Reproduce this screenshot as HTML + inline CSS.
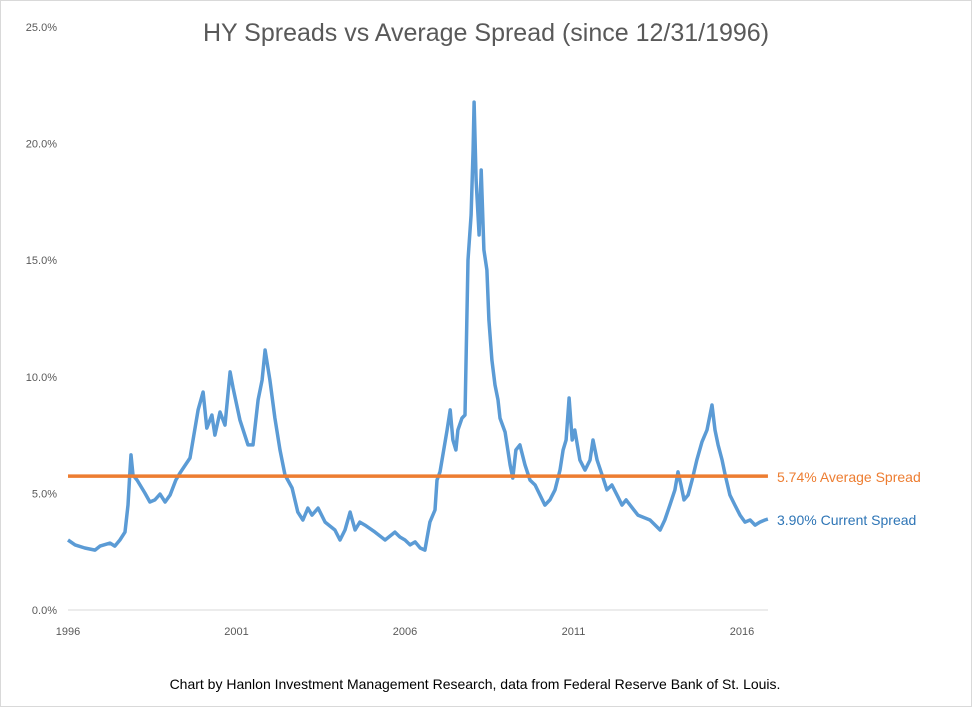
<!DOCTYPE html>
<html><head><meta charset="utf-8"><style>
body{margin:0;background:#fff;}
svg{display:block;font-family:"Liberation Sans",sans-serif;}
</style></head><body>
<svg id="chart" width="972" height="707" viewBox="0 0 972 707">
<rect x="0.5" y="0.5" width="971" height="706" fill="#fff" stroke="#d9d9d9"/>
<text x="486" y="41" text-anchor="middle" font-size="25" fill="#595959">HY Spreads vs Average Spread (since 12/31/1996)</text>
<g id="yaxis"></g><g id="xaxis"></g>
<line x1="68" x2="768" y1="610" y2="610" stroke="#d9d9d9" stroke-width="1"/>
<g id="series"></g>
<text x="475" y="689" text-anchor="middle" font-size="14" fill="#000">Chart by Hanlon Investment Management Research, data from Federal Reserve Bank of St. Louis.</text>
</svg>
<script>
const years=[0,.21,.5,.8,.95,1.25,1.39,1.54,1.69,1.78,1.84,1.87,1.93,2.05,2.28,2.43,2.58,2.73,2.88,3.03,3.2,3.32,3.62,3.86,4.01,4.12,4.27,4.36,4.51,4.66,4.81,4.9,5.1,5.34,5.49,5.64,5.76,5.85,5.99,6.14,6.29,6.44,6.65,6.82,6.97,7.12,7.24,7.42,7.63,7.92,8.07,8.22,8.37,8.52,8.66,8.81,9.11,9.41,9.7,9.85,10,10.15,10.3,10.45,10.59,10.74,10.89,10.95,11.04,11.25,11.34,11.42,11.51,11.57,11.69,11.78,11.87,11.96,12.02,12.05,12.11,12.2,12.26,12.34,12.43,12.49,12.58,12.67,12.76,12.82,12.97,13.12,13.2,13.29,13.41,13.56,13.71,13.86,14.15,14.3,14.45,14.6,14.69,14.78,14.87,14.96,15.04,15.19,15.34,15.49,15.58,15.7,15.85,15.99,16.14,16.32,16.44,16.56,16.68,16.91,17.27,17.57,17.71,17.86,18.01,18.1,18.19,18.28,18.4,18.52,18.66,18.81,18.96,19.11,19.2,19.29,19.41,19.5,19.64,19.79,19.94,20.09,20.24,20.39,20.53,20.68,20.77];
const spreads=[3.0,2.79,2.66,2.57,2.74,2.87,2.74,3.0,3.34,4.5,6.0,6.65,5.79,5.57,5.02,4.63,4.72,4.97,4.63,4.93,5.57,5.87,6.52,8.58,9.35,7.8,8.36,7.5,8.49,7.93,10.21,9.52,8.15,7.08,7.08,9.01,9.86,11.15,9.86,8.23,6.86,5.79,5.23,4.2,3.86,4.37,4.07,4.37,3.77,3.43,3.0,3.43,4.2,3.43,3.77,3.64,3.34,3.0,3.34,3.13,3.0,2.79,2.92,2.66,2.57,3.77,4.29,5.57,5.92,7.72,8.58,7.29,6.86,7.72,8.23,8.36,15.01,16.94,19.73,21.78,18.44,16.08,18.87,15.44,14.58,12.44,10.72,9.65,9.01,8.23,7.63,6.22,5.66,6.86,7.08,6.22,5.57,5.36,4.5,4.72,5.15,6.0,6.86,7.29,9.09,7.29,7.72,6.43,6.0,6.43,7.29,6.43,5.79,5.15,5.36,4.85,4.5,4.72,4.5,4.07,3.86,3.43,3.86,4.5,5.15,5.92,5.36,4.72,4.93,5.57,6.43,7.2,7.72,8.79,7.72,7.08,6.43,5.79,4.93,4.5,4.07,3.77,3.86,3.64,3.77,3.86,3.9];
const average=5.74;
const current=3.90;
const yTicks=[0,5,10,15,20,25];
const xTickLabels=["1996","2001","2006","2011","2016"];
const xTickPos=[0,5,10,15,20];
const NS="http://www.w3.org/2000/svg";
const X=t=>68+t*33.7;
const Y=v=>610-v*23.32;
function mk(tag,attrs,parent,text){const e=document.createElementNS(NS,tag);for(const k in attrs)e.setAttribute(k,attrs[k]);if(text!==undefined)e.textContent=text;parent.appendChild(e);return e;}
const ya=document.getElementById('yaxis');
yTicks.forEach(v=>{const t=mk('text',{x:57,y:Y(v)+4,'text-anchor':'end','font-size':11,fill:'#595959'},ya,v.toFixed(1)+'%');

});
const xa=document.getElementById('xaxis');
xTickLabels.forEach((l,i)=>{const t=mk('text',{x:X(xTickPos[i]),y:635,'text-anchor':'middle','font-size':11,fill:'#595959'},xa,l);

});
const s=document.getElementById('series');
const d=years.map((t,i)=>(i?'L':'M')+X(t).toFixed(1)+','+Y(spreads[i]).toFixed(1)).join('');
const p=mk('path',{d:d,fill:'none',stroke:'#5b9bd5','stroke-width':3.5,'stroke-linejoin':'round'},s);


const al=mk('line',{x1:X(years[0]),x2:X(years[years.length-1]),y1:Y(average),y2:Y(average),stroke:'#ed7d31','stroke-width':3.5},s);


const at=mk('text',{x:777,y:Y(average)+6,'font-size':14,fill:'#ed7d31'},s,average.toFixed(2)+'% Average Spread');


const ct=mk('text',{x:777,y:Y(current)+6,'font-size':14,fill:'#2e75b6'},s,current.toFixed(2)+'% Current Spread');


</script>
</body></html>
